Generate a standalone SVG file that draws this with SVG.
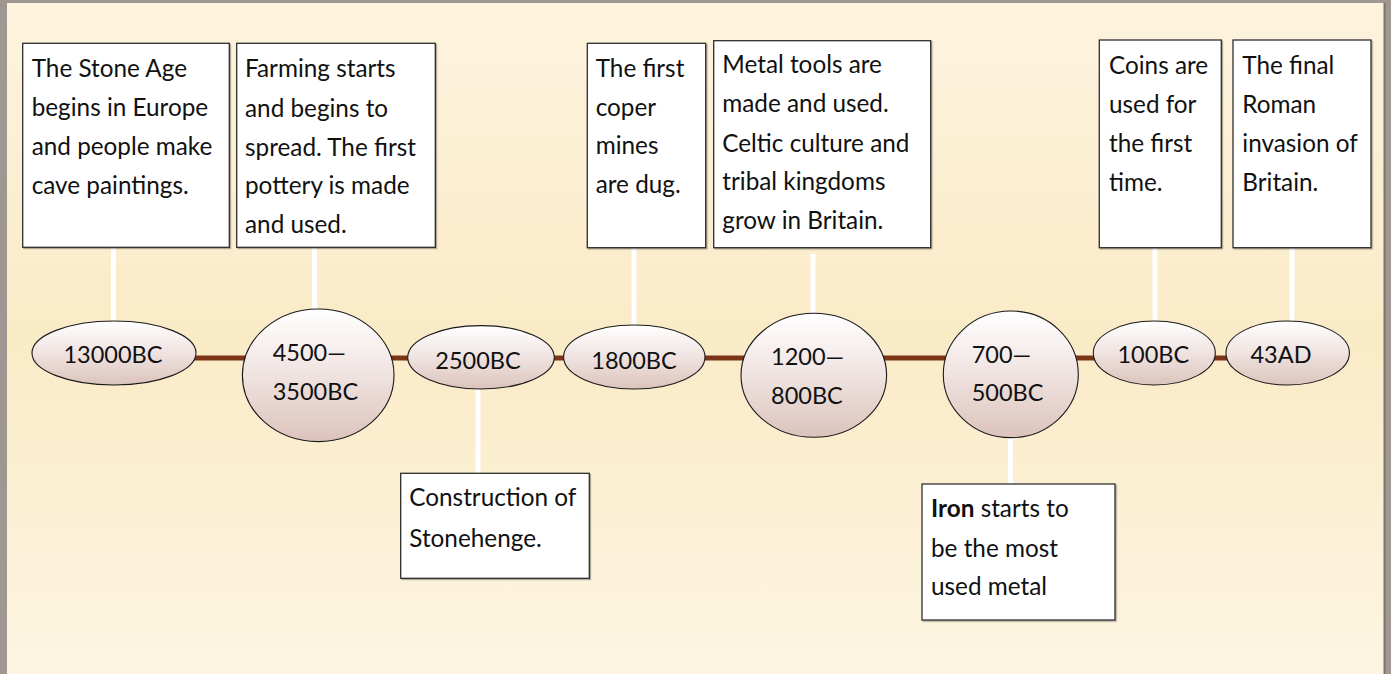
<svg xmlns="http://www.w3.org/2000/svg" width="1391" height="674" viewBox="0 0 1391 674">
<defs>
<linearGradient id="bg" x1="0" y1="0" x2="0" y2="1">
<stop offset="0" stop-color="#fdf3de"/>
<stop offset="0.5" stop-color="#faebc7"/>
<stop offset="1" stop-color="#fdf5e2"/>
</linearGradient>
<linearGradient id="oval" x1="0" y1="0" x2="0" y2="1">
<stop offset="0" stop-color="#ffffff"/>
<stop offset="0.45" stop-color="#f1e6e4"/>
<stop offset="1" stop-color="#dcc3bc"/>
</linearGradient>
<filter id="sh" x="-5%" y="-5%" width="110%" height="110%">
<feDropShadow dx="1.2" dy="1.2" stdDeviation="0.5" flood-color="#000" flood-opacity="0.3"/>
</filter>
</defs>
<style>
.box{fill:#ffffff;stroke:#2e2e2e;stroke-width:1.3;filter:url(#sh)}
.ov{fill:url(#oval);stroke:#1a1a1a;stroke-width:1.1}
.t{font-family:Lato,"Open Sans","Liberation Sans",sans-serif;font-size:24.3px;fill:#111}
.d{font-family:Lato,"Open Sans","Liberation Sans",sans-serif;font-size:23.5px;fill:#111}
.c{text-anchor:middle}
.stem{stroke:#ffffff;stroke-width:5}
.tl{stroke:#7b3516;stroke-width:5}
</style>
<rect x="0" y="0" width="1391" height="674" fill="#9f9791"/>
<rect x="7" y="3" width="1377" height="671" fill="url(#bg)"/>
<line x1="1384.5" y1="3" x2="1384.5" y2="674" stroke="#7c746a" stroke-width="2"/>

<g id="connectors">
<line class="tl" x1="150" y1="358" x2="1260" y2="358"/>
<line class="stem" x1="113.5" y1="247" x2="113.5" y2="322"/>
<line class="stem" x1="314.5" y1="247" x2="314.5" y2="310"/>
<line class="stem" x1="478" y1="388" x2="478" y2="474"/>
<line class="stem" x1="634" y1="247" x2="634" y2="326"/>
<line class="stem" x1="813" y1="254" x2="813" y2="314"/>
<line class="stem" x1="1010.5" y1="437" x2="1010.5" y2="485"/>
<line class="stem" x1="1155" y1="247" x2="1155" y2="322"/>
<line class="stem" x1="1292" y1="247" x2="1292" y2="322"/>
</g>

<g id="box-stone-age">
<rect class="box" x="22.7" y="43.3" width="206.6" height="204"/>
<text class="t" x="31.7" y="77">The Stone Age</text>
<text class="t" x="31.7" y="116">begins in Europe</text>
<text class="t" x="31.7" y="155">and people make</text>
<text class="t" x="31.7" y="194">cave paintings.</text>
</g>
<g id="box-farming">
<rect class="box" x="236.7" y="43.3" width="198.6" height="204"/>
<text class="t" x="245" y="77">Farming starts</text>
<text class="t" x="245" y="116.5">and begins to</text>
<text class="t" x="245" y="155.5">spread. The first</text>
<text class="t" x="245" y="194">pottery is made</text>
<text class="t" x="245" y="232.5">and used.</text>
</g>
<g id="box-copper">
<rect class="box" x="587.3" y="43.3" width="118.4" height="204.4"/>
<text class="t" x="595.7" y="76.7">The first</text>
<text class="t" x="595.7" y="115.5">coper</text>
<text class="t" x="595.7" y="154.3">mines</text>
<text class="t" x="595.7" y="193.3">are dug.</text>
</g>
<g id="box-metal">
<rect class="box" x="713.7" y="40.7" width="217" height="207"/>
<text class="t" x="722.3" y="73.3">Metal tools are</text>
<text class="t" x="722.3" y="112.3">made and used.</text>
<text class="t" x="722.3" y="151.5">Celtic culture and</text>
<text class="t" x="722.3" y="190.3">tribal kingdoms</text>
<text class="t" x="722.3" y="229.3">grow in Britain.</text>
</g>
<g id="box-coins">
<rect class="box" x="1099.3" y="40" width="122" height="207.7"/>
<text class="t" x="1109" y="74">Coins are</text>
<text class="t" x="1109" y="113.3">used for</text>
<text class="t" x="1109" y="152.3">the first</text>
<text class="t" x="1109" y="190.7">time.</text>
</g>
<g id="box-roman">
<rect class="box" x="1233" y="40" width="138" height="207.7"/>
<text class="t" x="1242.3" y="74">The final</text>
<text class="t" x="1242.3" y="113.3">Roman</text>
<text class="t" x="1242.3" y="152.3">invasion of</text>
<text class="t" x="1242.3" y="190.7">Britain.</text>
</g>
<g id="box-stonehenge">
<rect class="box" x="400.7" y="473.3" width="188.6" height="105"/>
<text class="t" x="409.3" y="506">Construction of</text>
<text class="t" x="409.3" y="546.7">Stonehenge.</text>
</g>
<g id="box-iron">
<rect class="box" x="922" y="484" width="193" height="136"/>
<text class="t" x="931" y="517.3"><tspan font-weight="bold">Iron</tspan> starts to</text>
<text class="t" x="931" y="556.7">be the most</text>
<text class="t" x="931" y="595">used metal</text>
</g>

<g id="date-13000bc">
<ellipse class="ov" cx="114" cy="353" rx="82" ry="32"/>
<text class="d c" x="113" y="363">13000BC</text>
</g>
<g id="date-4500bc">
<ellipse class="ov" cx="318.2" cy="375.3" rx="75.8" ry="66.3"/>
<text class="d" x="272.7" y="361">4500—</text>
<text class="d" x="272.7" y="400">3500BC</text>
</g>
<g id="date-2500bc">
<ellipse class="ov" cx="481" cy="357.3" rx="73.3" ry="31.7"/>
<text class="d c" x="478" y="369">2500BC</text>
</g>
<g id="date-1800bc">
<ellipse class="ov" cx="634.3" cy="357" rx="70.7" ry="32"/>
<text class="d c" x="634" y="368.5">1800BC</text>
</g>
<g id="date-1200bc">
<ellipse class="ov" cx="813.8" cy="375.3" rx="72.8" ry="62"/>
<text class="d" x="771" y="365">1200—</text>
<text class="d" x="771" y="404">800BC</text>
</g>
<g id="date-700bc">
<ellipse class="ov" cx="1010.8" cy="374.3" rx="67.5" ry="63.3"/>
<text class="d" x="971.7" y="362.7">700—</text>
<text class="d" x="971.7" y="401">500BC</text>
</g>
<g id="date-100bc">
<ellipse class="ov" cx="1154.3" cy="353" rx="61" ry="32"/>
<text class="d c" x="1153.3" y="363.3">100BC</text>
</g>
<g id="date-43ad">
<ellipse class="ov" cx="1287.7" cy="353" rx="61.7" ry="32"/>
<text class="d c" x="1281" y="363">43AD</text>
</g>
</svg>
